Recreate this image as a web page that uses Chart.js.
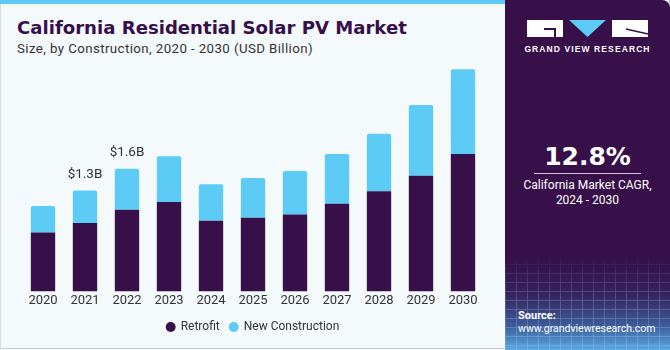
<!DOCTYPE html>
<html>
<head>
<meta charset="utf-8">
<script src="https://cdn.jsdelivr.net/npm/chart.js@4/dist/chart.umd.min.js"></script>
<style>
  html, body { margin: 0; padding: 0; }
  body { width: 670px; height: 350px; position: relative; overflow: hidden; background: #f4f9fc; font-family: Roboto, "Liberation Sans", Arial, sans-serif; }
  #frame { position: absolute; left: 0; top: 0; width: 668px; height: 348px; border-left: 1px solid #d6d9dc; border-bottom: 1px solid #c9cdd1; border-right: 1px solid #c9cdd1; }
  #topbar { position: absolute; left: 0; top: 0; width: 505px; height: 4px; background: #5ccbf5; }
  #title { position: absolute; left: 17px; top: 18.6px; font-family: "DejaVu Sans", sans-serif; font-size: 18.1px; line-height: 1; font-weight: bold; color: #371049; white-space: nowrap; }
  #subtitle { position: absolute; left: 17px; top: 41.6px; font-size: 13.3px; line-height: 1; color: #333; white-space: nowrap; letter-spacing: 0.4px; }
  #panel { position: absolute; left: 505px; top: 0; width: 165px; height: 350px; border-top-right-radius: 8px; overflow: hidden;
    background: linear-gradient(to bottom, #371049 0%, #371049 74%, #35225e 84%, #3d5b9a 93%, #5aa9e2 100%); }
  #grid { position: absolute; left: 0; top: 255px; width: 165px; height: 95px; opacity: 0.22;
    background-image: repeating-linear-gradient(to right, #cfe6ff 0 1px, transparent 1px 11px), repeating-linear-gradient(to bottom, #cfe6ff 0 1px, transparent 1px 9px);
    -webkit-mask-image: linear-gradient(to bottom, transparent 0%, #000 45%); }
  #brand { position: absolute; left: 0; width: 165px; top: 44px; text-align: center; color: #fff; font-family: "Liberation Sans", Arial, sans-serif; font-size: 8.5px; font-weight: bold; letter-spacing: 1.1px; }
  #cagr { position: absolute; left: 0; width: 165px; top: 143.8px; line-height: 1; text-align: center; color: #fff; font-family: "DejaVu Sans", sans-serif; font-size: 25px; font-weight: bold; }
  #rule { position: absolute; left: 29px; top: 173px; width: 107px; height: 1px; background: #cfc3dc; }
  #cagrtext { position: absolute; left: 0; width: 165px; top: 177.5px; text-align: center; color: #fff; font-size: 12px; line-height: 15px; }
  #src { position: absolute; left: 13px; top: 308.7px; color: #fff; font-size: 10.5px; line-height: 13px; }
  #src b { font-size: 11px; }
  #chartwrap { position: absolute; left: 0; top: 60px; width: 500px; height: 290px; }
</style>
</head>
<body>
<div id="frame"></div>
<div id="topbar"></div>
<div id="title">California Residential Solar PV Market</div>
<div id="subtitle">Size, by Construction, 2020 - 2030 (USD Billion)</div>
<div id="panel">
  <div id="grid"></div>
  <svg style="position:absolute;left:22px;top:20px" width="122" height="18" viewBox="0 0 122 18">
    <rect x="0" y="0" width="36" height="17" fill="#fff"/>
    <rect x="17" y="8" width="12" height="2" fill="#371049"/>
    <rect x="27" y="8" width="2" height="9" fill="#371049"/>
    <polygon points="42,0 79,0 60.5,17" fill="#5ccbf5"/>
    <rect x="85" y="0" width="36" height="17" fill="#fff"/>
    <line x1="99" y1="9" x2="121" y2="14" stroke="#371049" stroke-width="1.5"/>
  </svg>
  <div id="brand">GRAND VIEW RESEARCH</div>
  <div id="cagr">12.8%</div>
  <div id="rule"></div>
  <div id="cagrtext">California Market CAGR,<br>2024 - 2030</div>
  <div id="src"><b>Source:</b><br>www.grandviewresearch.com</div>
</div>
<div id="chartwrap"><canvas id="c" width="500" height="290"></canvas></div>
<script>
const years = ['2020','2021','2022','2023','2024','2025','2026','2027','2028','2029','2030'];
const retrofit = [0.76, 0.88, 1.05, 1.15, 0.91, 0.95, 0.99, 1.13, 1.29, 1.49, 1.77];
const newConstruction = [0.34, 0.42, 0.53, 0.59, 0.47, 0.51, 0.56, 0.64, 0.74, 0.91, 1.09];
const totalLabels = ['', '$1.3B', '$1.6B', '', '', '', '', '', '', '', ''];
const seriesNames = ['Retrofit', 'New Construction'];

const FONT = 'Roboto, "Liberation Sans", Arial, sans-serif';

const labelPlugin = {
  id: 'totalLabels',
  afterDatasetsDraw(chart) {
    const ctx = chart.ctx;
    const meta = chart.getDatasetMeta(1);
    ctx.save();
    ctx.font = '13.5px ' + FONT;
    ctx.fillStyle = '#333333';
    ctx.textAlign = 'center';
    ctx.textBaseline = 'middle';
    totalLabels.forEach((t, i) => {
      if (!t) return;
      const el = meta.data[i];
      ctx.fillText(t, el.x, el.y - 16);
    });
    ctx.restore();
  }
};

new Chart(document.getElementById('c'), {
  type: 'bar',
  data: {
    labels: years,
    datasets: [
      { label: seriesNames[0], data: retrofit, backgroundColor: '#371049', borderWidth: 0 },
      { label: seriesNames[1], data: newConstruction, backgroundColor: '#5ccbf5', borderWidth: 0,
        borderRadius: { topLeft: 2, topRight: 2, bottomLeft: 0, bottomRight: 0 }, borderSkipped: false }
    ]
  },
  options: {
    responsive: false,
    devicePixelRatio: 1,
    animation: false,
    layout: { padding: { left: 22, right: 16, top: 0, bottom: 7 } },
    datasets: { bar: { categoryPercentage: 1.0, barPercentage: 0.58 } },
    scales: {
      x: { stacked: true, grid: { display: false, drawTicks: false }, border: { display: false },
        ticks: { color: '#333333', font: { size: 13, family: FONT }, padding: 2 } },
      y: { stacked: true, display: false, min: 0, max: 2.98 }
    },
    plugins: {
      legend: { position: 'bottom',
        labels: { usePointStyle: true, pointStyle: 'circle', boxWidth: 8, boxHeight: 7, padding: 10,
          color: '#333333', font: { size: 12, family: FONT } } },
      tooltip: { enabled: false }
    }
  },
  plugins: [labelPlugin]
});
</script>
</body>
</html>
